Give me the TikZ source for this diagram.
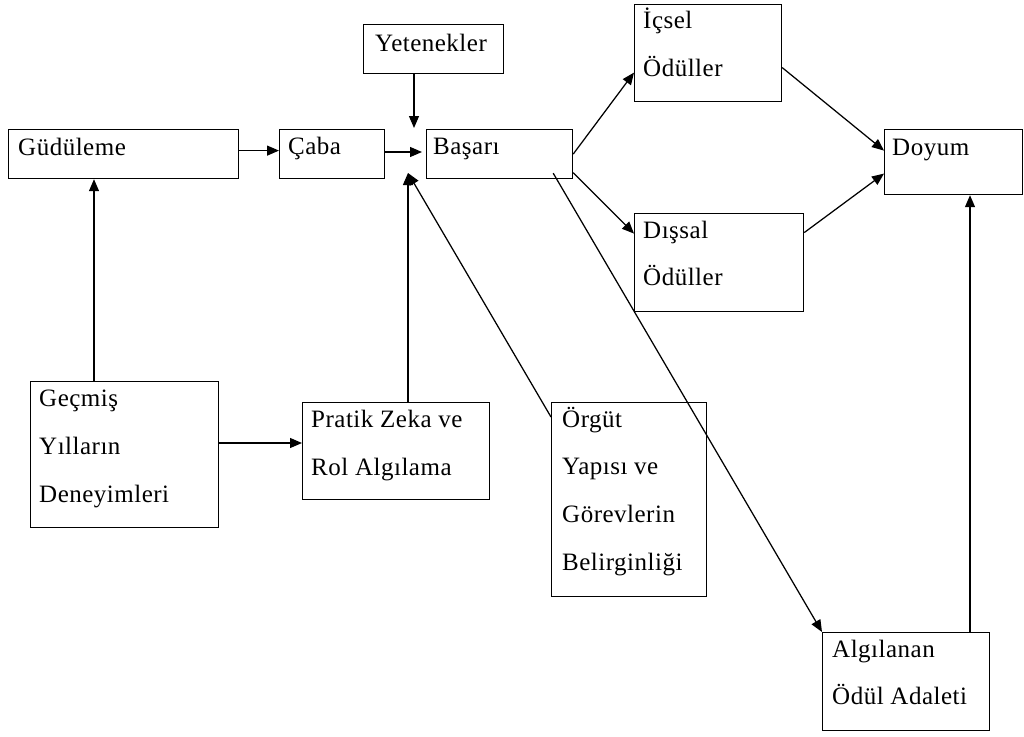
\documentclass[tikz,border=0pt]{standalone}
\usepackage{fontspec}
\setmainfont{Liberation Serif}[LetterSpace=2]
\usetikzlibrary{arrows.meta}
\begin{document}
\begin{tikzpicture}[x=1pt,y=-1pt,
  bx/.style={draw, line width=1.2pt, inner sep=0pt, anchor=north west},
  tx/.style={anchor=base west, inner sep=0pt, font=\fontsize{25}{48}\selectfont},
  arr/.style={line width=1.25pt, -{Triangle[length=12pt,width=10pt]}}]
\fill[white] (0,0) rectangle (1024,736);
\useasboundingbox (0,0) rectangle (1024,736);
% boxes
\node[bx, minimum width=140pt, minimum height=49pt] (yet) at (363,24) {};
\node[bx, minimum width=147pt, minimum height=97pt] (icsel) at (634,4) {};
\node[bx, minimum width=230pt, minimum height=49pt] (gud) at (8,129) {};
\node[bx, minimum width=105pt, minimum height=49pt] (caba) at (279,129) {};
\node[bx, minimum width=146pt, minimum height=49pt] (basari) at (426,129) {};
\node[bx, minimum width=138pt, minimum height=65pt] (doyum) at (884,129) {};
\node[bx, minimum width=169pt, minimum height=98pt] (dissal) at (634,213) {};
\node[bx, minimum width=188pt, minimum height=146pt] (gecmis) at (30,381) {};
\node[bx, minimum width=187pt, minimum height=97pt] (pratik) at (302,402) {};
\node[bx, minimum width=155pt, minimum height=194pt] (orgut) at (551,402) {};
\node[bx, minimum width=167pt, minimum height=98pt] (algi) at (822,632) {};
% texts
\node[tx] (t1) at (375,51) {Yetenekler};
\node[tx] (t2) at (643,28) {İçsel};
\node[tx] (t3) at (643,76) {Ödüller};
\node[tx] (t4) at (18,155) {Güdüleme};
\node[tx] (t5) at (288,154) {Çaba};
\node[tx] (t6) at (433,154) {Başarı};
\node[tx] (t7) at (892,155) {Doyum};
\node[tx] (t8) at (643,238) {Dışsal};
\node[tx] (t9) at (643,285) {Ödüller};
\node[tx] (t10) at (39,406) {Geçmiş};
\node[tx] (t11) at (39,454) {Yılların};
\node[tx] (t12) at (39,502) {Deneyimleri};
\node[tx] (t13) at (311,427) {Pratik Zeka ve};
\node[tx] (t14) at (311,475) {Rol Algılama};
\node[tx] (t15) at (562,427) {Örgüt};
\node[tx] (t16) at (562,474) {Yapısı ve};
\node[tx] (t17) at (562,522) {Görevlerin};
\node[tx] (t18) at (562,570) {Belirginliği};
\node[tx] (t19) at (832,657) {Algılanan};
\node[tx] (t20) at (832,704) {Ödül Adaleti};
% helper coordinates
\coordinate (bin) at (422,152);
\coordinate (btop) at (414,128);
\coordinate (bbot) at (408,173);
\coordinate (gx) at (94,300);
\coordinate (pin) at (302,443);
\coordinate (dx) at (970,400);
% connectors
\draw[arr] ([yshift=3.5pt]gud.east) -- ([yshift=3.5pt]caba.west);
\draw[arr] (caba.east |- bin) -- (bin);
\draw[arr] (yet.south -| btop) -- (btop);
\draw[arr] (pratik.north -| bbot) -- (bbot);
\draw[arr] ([yshift=-15pt]orgut.north west) -- (bbot);
\draw[arr] (gecmis.north -| gx) -- (gud.south -| gx);
\draw[arr] (gecmis.east |- pin) -- (pin);
\draw[arr] (basari.east) -- ([yshift=-19.5pt]icsel.west);
\draw[arr] ([yshift=-18.5pt]basari.east) -- ([yshift=29pt]dissal.west);
\draw[arr] ([yshift=-14.5pt]icsel.east) -- ([yshift=11.5pt]doyum.west);
\draw[arr] ([yshift=30pt]dissal.east) -- ([yshift=-11.5pt]doyum.west);
\draw[arr] ([xshift=-20pt,yshift=6pt]basari.south east) -- (algi.north west);
\draw[arr] (algi.north -| dx) -- (doyum.south -| dx);
\end{tikzpicture}
\end{document}
